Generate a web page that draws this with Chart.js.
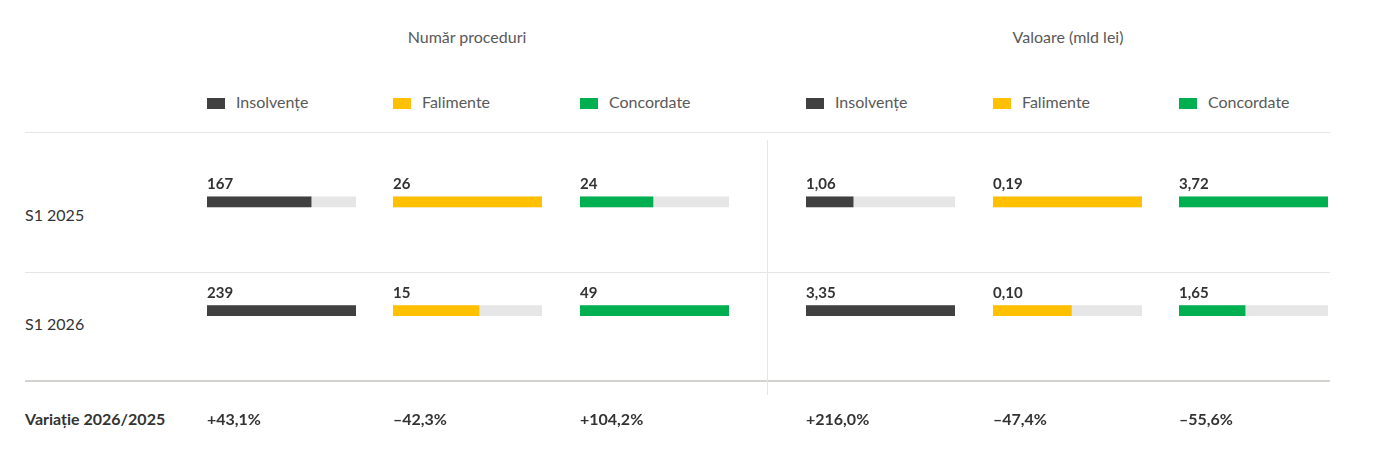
<!DOCTYPE html>
<html lang="ro">
<head>
<meta charset="utf-8">
<script src="https://cdn.jsdelivr.net/npm/chart.js@4"></script>
<style>
  html, body { margin: 0; padding: 0; background: #fff; }
  #board { position: relative; width: 1384px; height: 455px; font-family: Lato, "Open Sans", sans-serif; color: #333; }
  .txt { position: absolute; white-space: nowrap; line-height: 1; }
  .head { font-size: 16px; color: #595959; transform: translateX(-50%); }
  .leg { font-size: 16px; color: #595959; }
  .sw { position: absolute; width: 18px; height: 11px; }
  .row { font-size: 16px; color: #333; }
  .val { font-size: 15px; font-weight: 700; color: #333; }
  .var { font-size: 16px; font-weight: 700; color: #333; }
  .hl { position: absolute; height: 1px; background: #e6e6e2; }
  .vl { position: absolute; width: 1px; background: #e6e6e2; }
  canvas.cell { position: absolute; }
</style>
</head>
<body>
<div id="board"></div>
<script>
// rows and series
const categories = ["S1 2025", "S1 2026"];
const seriesNames = ["Insolvențe", "Falimente", "Concordate"];
const seriesColors = ["#404040", "#FFC000", "#00B050"];
const groupTitles = ["Număr proceduri", "Valoare (mld lei)"];

// număr proceduri
const countInsolvente = [167, 239];
const countFalimente = [26, 15];
const countConcordate = [24, 49];

// valoare (mld lei)
const valueInsolvente = [1.06, 3.35];
const valueFalimente = [0.19, 0.10];
const valueConcordate = [3.72, 1.65];

const variationLabel = "Variație 2026/2025";
const variations = ["+43,1%", "–42,3%", "+104,2%", "+216,0%", "–47,4%", "–55,6%"];

const board = document.getElementById("board");
const colX = [207, 393, 580, 806, 993, 1179];
const colW = 149;
const trackColor = "#E6E6E6";

function addText(cls, text, left, top) {
    const el = document.createElement("div");
    el.className = "txt " + cls;
    el.textContent = text;
    el.style.left = left + "px";
    el.style.top = top + "px";
    board.appendChild(el);
    return el;
}

function addLine(cls, left, top, w, h, color) {
    const el = document.createElement("div");
    el.className = cls;
    el.style.left = left + "px";
    el.style.top = top + "px";
    if (w) el.style.width = w + "px";
    if (h) el.style.height = h + "px";
    if (color) el.style.background = color;
    board.appendChild(el);
}

// group titles
addText("head", groupTitles[0], 467, 29);
addText("head", groupTitles[1], 1068, 29);

// legends
colX.forEach((x, i) => {
    const s = i % 3;
    const sw = document.createElement("div");
    sw.className = "sw";
    sw.style.left = x + "px";
    sw.style.top = "98px";
    sw.style.background = seriesColors[s];
    board.appendChild(sw);
    addText("leg", seriesNames[s], x + 29, 94);
});

// grid lines
addLine("hl", 25, 132, 1305);
addLine("hl", 25, 272, 1305);
addLine("hl", 25, 380, 1305, 2, "#d2d2ce");
addLine("vl", 767, 140, 0, 255);

// row labels
addText("row", categories[0], 25, 207);
addText("row", categories[1], 25, 316);

const columns = [
    { data: countInsolvente, color: seriesColors[0], fmt: v => String(v) },
    { data: countFalimente, color: seriesColors[1], fmt: v => String(v) },
    { data: countConcordate, color: seriesColors[2], fmt: v => String(v) },
    { data: valueInsolvente, color: seriesColors[0], fmt: v => v.toFixed(2).replace(".", ",") },
    { data: valueFalimente, color: seriesColors[1], fmt: v => v.toFixed(2).replace(".", ",") },
    { data: valueConcordate, color: seriesColors[2], fmt: v => v.toFixed(2).replace(".", ",") },
];

const chartTop = 147;
const chartH = 218;

columns.forEach((col, i) => {
    const canvas = document.createElement("canvas");
    canvas.className = "cell";
    canvas.width = colW;
    canvas.height = chartH;
    canvas.style.left = colX[i] + "px";
    canvas.style.top = chartTop + "px";
    canvas.style.width = colW + "px";
    canvas.style.height = chartH + "px";
    board.appendChild(canvas);

    const maxVal = Math.max(...col.data);
    new Chart(canvas, {
        type: "bar",
        data: {
            labels: categories,
            datasets: [
                { data: col.data, backgroundColor: col.color, grouped: false, order: 0,
                  barThickness: 10, borderWidth: 0 },
                { data: categories.map(() => maxVal), backgroundColor: trackColor, grouped: false, order: 1,
                  barThickness: 10, borderWidth: 0 },
            ],
        },
        options: {
            indexAxis: "y",
            responsive: false,
            animation: false,
            layout: { padding: { top: 0.5, bottom: -0.5 } },
            plugins: { legend: { display: false }, tooltip: { enabled: false } },
            scales: {
                x: { display: false, min: 0, max: maxVal },
                y: { display: false, offset: true },
            },
        },
    });

    // value labels above the bars
    col.data.forEach((v, r) => {
        addText("val", col.fmt(v), colX[i], 176 + r * 109);
    });

    addText("var", variations[i], colX[i], 411);
});

addText("var", variationLabel, 25, 411);
</script>
</body>
</html>
